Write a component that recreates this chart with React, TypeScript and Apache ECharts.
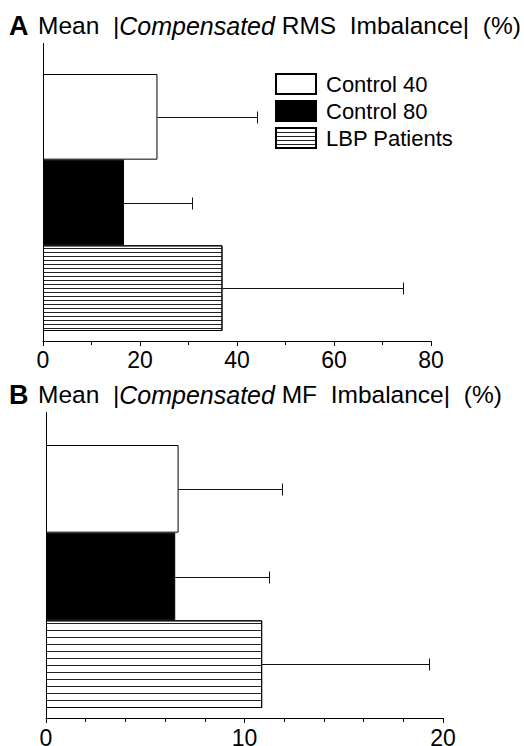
import React, { useEffect, useRef } from 'react';
import * as echarts from 'echarts';

const groups = ['Control 40', 'Control 80', 'LBP Patients'];

// Panel A: Mean |Compensated RMS Imbalance| (%)
const rmsMean = [23.6, 16.7, 37.0];
const rmsSD = [20.5, 14.0, 37.3];
const rmsTicks = [0, 20, 40, 60, 80];

// Panel B: Mean |Compensated MF Imbalance| (%)
const mfMean = [6.68, 6.51, 10.89];
const mfSD = [5.21, 4.73, 8.4];
const mfTicks = [0, 10, 20];

const FONT = '"Liberation Sans", Arial, Helvetica, sans-serif';

function hatch(gap: number) {
  return {
    symbol: 'rect',
    symbolSize: 1,
    dashArrayX: [10, 0],
    dashArrayY: [1, gap],
    rotation: 0,
    color: '#222',
  };
}

function barStyles(gap: number) {
  return [
    { color: '#ffffff', borderColor: '#000', borderWidth: 1 },
    { color: '#000000', borderColor: '#000', borderWidth: 1 },
    { color: '#ffffff', borderColor: '#000', borderWidth: 1, decal: hatch(gap) },
  ];
}

function panelSeries(p: number, means: number[], sds: number[], gap: number) {
  const styles = barStyles(gap);
  const bars = groups.map((g, gi) => ({
    type: 'bar',
    name: g,
    xAxisIndex: p,
    yAxisIndex: p,
    barGap: '-100%',
    barCategoryGap: '0%',
    data: means.map((v, i) => (i === gi ? v : '-')),
    itemStyle: styles[gi],
    silent: true,
    z: 2,
  }));
  const err = {
    type: 'custom',
    name: 'err' + p,
    xAxisIndex: p,
    yAxisIndex: p,
    silent: true,
    z: 3,
    data: means.map((m, i) => [m, i, m + sds[i]]),
    encode: { x: [0, 2], y: 1 },
    renderItem: (params: any, api: any) => {
      const idx = api.value(1);
      const s = api.coord([api.value(0), idx]);
      const e = api.coord([api.value(2), idx]);
      const y = Math.round(s[1]) + 0.5;
      const xe = Math.round(e[0]) + 0.5;
      return {
        type: 'group',
        children: [
          { type: 'line', shape: { x1: s[0], y1: y, x2: xe, y2: y }, style: { stroke: '#111', lineWidth: 1 } },
          { type: 'line', shape: { x1: xe, y1: y - 6, x2: xe, y2: y + 6 }, style: { stroke: '#111', lineWidth: 1 } },
        ],
      };
    },
  };
  return [...bars, err];
}

function xAxis(p: number, ticks: number[], minorSplit: number, margin: number) {
  return {
    type: 'value',
    gridIndex: p,
    min: ticks[0],
    max: ticks[ticks.length - 1],
    interval: ticks[1] - ticks[0],
    offset: 10,
    axisLine: { show: true, lineStyle: { color: '#000', width: 1 } },
    axisTick: { show: true, length: 5, inside: false, lineStyle: { color: '#000', width: 1 } },
    minorTick: { show: true, splitNumber: minorSplit, length: 4, lineStyle: { color: '#000', width: 1 } },
    splitLine: { show: false },
    minorSplitLine: { show: false },
    axisLabel: { fontSize: 23, color: '#000', margin, fontFamily: FONT },
  };
}

function yAxis(p: number) {
  return {
    type: 'category',
    gridIndex: p,
    data: groups,
    inverse: true,
    axisLine: { show: false },
    axisTick: { show: false },
    axisLabel: { show: false },
    splitLine: { show: false },
  };
}

const titleRich = {
  b: { fontFamily: FONT, fontWeight: 'bold', fontSize: 27, color: '#000', width: 29 },
  n: { fontFamily: FONT, fontWeight: 'normal', fontSize: 24.5, color: '#000' },
  i: { fontFamily: FONT, fontWeight: 'normal', fontSize: 25, fontStyle: 'italic', color: '#000' },
};

export default function App() {
  const ref = useRef<HTMLDivElement>(null);
  useEffect(() => {
    if (!ref.current) return;
    const chart = echarts.init(ref.current, null, { renderer: 'svg' });
    const option: any = {
      animation: false,
      backgroundColor: '#fff',
      title: [
        {
          text: '{b|A}{n|Mean  |}{i|Compensated}{n| RMS  Imbalance|  (%)}',
          left: 9,
          top: 12,
          padding: 0,
          textStyle: { fontWeight: 'normal', rich: titleRich },
        },
        {
          text: '{b|B}{n|Mean  |}{i|Compensated}{n| MF  Imbalance|  (%)}',
          left: 9,
          top: 381,
          padding: 0,
          textStyle: { fontWeight: 'normal', rich: titleRich },
        },
      ],
      legend: {
        data: groups,
        orient: 'vertical',
        left: 275,
        top: 73,
        padding: 0,
        itemWidth: 40,
        itemHeight: 20,
        itemGap: 5,
        icon: 'rect',
        selectedMode: false,
        textStyle: { fontSize: 22, color: '#000', fontFamily: FONT, padding: [0, 0, 0, 5] },
      },
      grid: [
        { left: 43, top: 74, width: 388, height: 257, containLabel: false, outerBoundsMode: 'none' },
        { left: 46, top: 445, width: 397, height: 263, containLabel: false, outerBoundsMode: 'none' },
      ],
      xAxis: [xAxis(0, rmsTicks, 2, 7), xAxis(1, mfTicks, 5, 8)],
      yAxis: [yAxis(0), yAxis(1)],
      series: [...panelSeries(0, rmsMean, rmsSD, 3), ...panelSeries(1, mfMean, mfSD, 6)],
      graphic: [
        { type: 'line', shape: { x1: 43.5, y1: 43, x2: 43.5, y2: 341 }, style: { stroke: '#000', lineWidth: 1 } },
        { type: 'line', shape: { x1: 46.5, y1: 412, x2: 46.5, y2: 718 }, style: { stroke: '#000', lineWidth: 1 } },
      ],
    };
    chart.setOption(option);
    return () => chart.dispose();
  }, []);
  return <div ref={ref} style={{ position: 'absolute', left: 0, top: 0, width: 524, height: 746 }} />;
}
